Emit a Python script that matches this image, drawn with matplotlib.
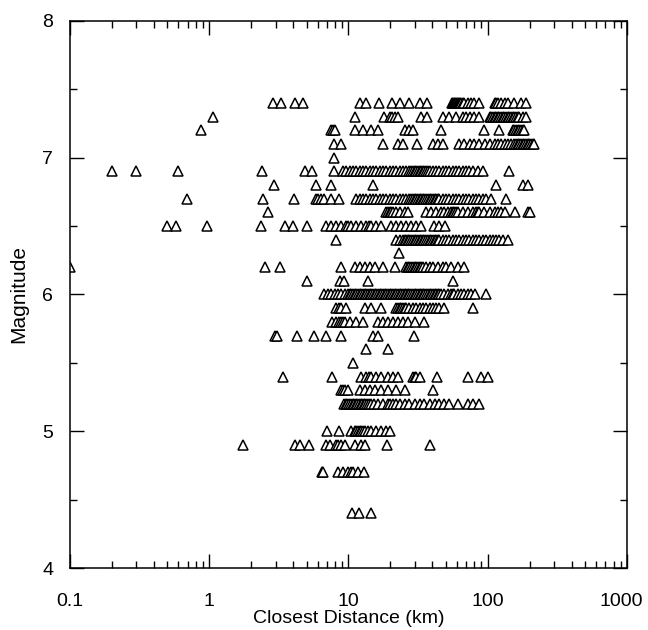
import numpy as np
import matplotlib.pyplot as plt
import matplotlib.transforms as mtransforms
from matplotlib.ticker import FixedLocator, NullFormatter, FixedFormatter

plt.rcParams['font.family'] = ['Liberation Sans', 'DejaVu Sans']

# distancias (km) lidas por linha de magnitude
d74 = [2.85, 3.25, 4.15, 4.75, 12.0, 13.4, 16.5, 20.6, 23.6, 27.1, 32.4, 36.5,
       55, 56, 57, 58, 59, 60, 61, 62, 63, 64.5, 66, 68, 72, 76, 80, 87,
       112, 115, 118, 125, 132, 140, 155, 172, 188]
d73 = [1.06, 11.1, 18.0, 19.7, 20.6, 21.4, 22.8, 33.3, 36.7, 47.6, 53, 59, 66, 70, 74,
       80, 86, 103, 106, 109, 112, 115, 118, 121, 125, 128, 131, 135, 139, 143, 147,
       151, 155, 160, 164, 168, 178, 188]
d72 = [0.87, 7.5, 7.7, 8.0, 11.2, 12.7, 14.6, 16.3, 25.3, 27.0, 29.0, 46.3, 94.7, 121,
       151, 155, 160, 164, 168, 173, 178, 183]
d71 = [7.9, 8.8, 17.7, 22.6, 24.6, 31, 40.3, 43.8, 47.6, 62.6, 67, 74, 80, 87, 95,
       103, 112, 118, 125, 132, 139, 147, 155, 160, 164, 168, 173, 178, 183, 188,
       193, 198, 204, 210, 216]
d70 = [7.9]
d69 = [0.2, 0.3, 0.6, 2.38, 4.9, 5.5, 7.9, 9.1, 9.6, 10.2, 10.8, 11.4, 12.0, 12.7,
       13.4, 14.2, 15.0, 15.8, 16.7, 17.7, 18.7, 19.7, 20.8, 22.0, 23.3, 24.6, 26.0,
       27.4, 28.2, 29.0, 29.8, 30.6, 31.5, 32.4, 33.3, 34.2, 35.1, 36.1, 37.1, 38.2,
       40.3, 42.6, 45.0, 47.6, 50.3, 53.1, 56.1, 59.3, 62.6, 66.2, 69.9, 73.9, 78.1,
       84.8, 92.1, 143]
d68 = [2.9, 5.8, 7.5, 15.0, 115, 178, 193]
d67 = [0.69, 2.45, 4.05, 5.8, 6.0, 6.3, 6.7, 7.5, 8.6, 11.4, 12.0, 12.7, 13.4, 14.2,
       15.0, 15.8, 16.7, 17.7, 18.7, 19.7, 20.8, 22.0, 23.3, 24.6, 26.0, 27.4, 28.2,
       29.0, 29.8, 30.6, 31.5, 32.4, 33.3, 34.2, 35.1, 36.1, 37.1, 38.2, 39.2, 40.3,
       41.5, 42.6, 43.8, 45.0, 47.6, 50.3, 53.1, 56.1, 59.3, 62.6, 66.2, 69.9, 73.9,
       78.1, 82.5, 87.2, 92.1, 97.3, 106, 135]
d66 = [2.65, 18.7, 19.2, 19.7, 20.3, 20.8, 22.0, 23.3, 25.3, 26.7, 36.1, 39.2, 42.6,
       46.3, 48.9, 51.7, 54.6, 56.1, 57.7, 59.3, 60.9, 66.2, 71.9, 78.1, 82.5, 85,
       87.2, 94.7, 103, 112, 118, 125, 132, 157, 193, 202]
d65 = [0.5, 0.58, 0.97, 2.37, 3.5, 4.0, 5.05, 6.9, 7.5, 8.2, 8.9, 9.6, 10.0, 10.5,
       11.4, 12.35, 13.4, 14.0, 14.6, 15.8, 17.2, 20.3, 22.0, 23.9, 26.0, 28.2, 30.6,
       33.3, 41, 45, 49.5]
d64 = [8.2, 22.0, 23.3, 24.6, 25.3, 26.0, 26.7, 27.4, 28.2, 29.0, 29.8, 30.6, 31.5,
       32.4, 33.3, 34.2, 35.1, 36.1, 37.1, 38.2, 39.2, 40.3, 41.5, 42.6, 43.8, 45.0,
       47.6, 50.3, 53.1, 56.1, 59.3, 62.6, 66.2, 69.9, 73.9, 78.1, 82.5, 87.2, 92.1,
       97.3, 103, 109, 115, 121, 128, 139]
d63 = [23.0]
d62 = [0.1, 2.5, 3.2, 8.8, 11.1, 12.0, 13.05, 14.2, 15.4, 17.7, 21.4, 26.0, 26.7,
       27.4, 28.2, 29.0, 29.8, 30.6, 31.5, 32.4, 33.3, 34.2, 36.1, 38.2, 40.3, 43.8,
       47.6, 50.3, 54.6, 60.9, 67]
d61 = [5.05, 8.7, 9.3, 13.9, 56]
d60 = [6.7, 7.1, 7.5, 7.95, 8.4, 8.9, 9.4, 9.9, 10.2, 10.5, 10.8, 11.1, 11.4, 11.7,
       12.0, 12.35, 12.7, 13.05, 13.4, 13.8, 14.2, 14.6, 15.0, 15.4, 15.8, 16.3, 16.7,
       17.2, 17.7, 18.2, 18.7, 19.2, 19.7, 20.3, 20.8, 21.4, 22.0, 22.6, 23.3, 23.9,
       24.6, 25.3, 26.0, 26.7, 27.4, 28.2, 29.0, 29.8, 30.6, 31.5, 32.4, 33.3, 34.2,
       35.1, 36.1, 37.1, 38.2, 39.2, 40.3, 41.5, 42.6, 43.8, 45.0, 46.3, 48.9, 51.7,
       54.6, 56.1, 57.7, 60.9, 64.4, 68.0, 71.9, 76.0, 81, 97]
d59 = [8.2, 8.5, 8.8, 9.6, 13.05, 14.6, 17.2, 22.0, 22.6, 23.3, 23.9, 24.6, 25.3, 26.0,
       27.4, 29.0, 30.6, 32.4, 34.2, 36.1, 38.2, 40.3, 42.6, 45.0, 48.3, 78]
d58 = [7.6, 8.2, 8.5, 8.8, 9.1, 9.4, 10.2, 11.4, 12.7, 16.3, 17.7, 19.2, 20.8, 22.6,
       24.6, 26.7, 29.8, 35.1]
d57 = [2.95, 3.05, 4.3, 5.7, 6.9, 8.8, 15.0, 16.4, 29.5]
d56 = [13.4, 19.2]
d55 = [10.8]
d54 = [3.4, 7.6, 12.35, 13.4, 14.0, 14.6, 15.8, 17.2, 19.2, 20.8, 22.6, 29.0, 30.0,
       30.6, 32.4, 43.3, 71.9, 89, 101]
d53 = [8.9, 9.2, 9.4, 10.0, 12.0, 13.05, 14.2, 15.4, 17.2, 19.2, 22.0, 25.3, 40.3]
d52 = [9.3, 9.6, 9.8, 10.1, 10.4, 10.7, 11.0, 11.3, 11.6, 11.9, 12.2, 12.5, 12.9,
       13.2, 13.6, 14.0, 14.4, 15.2, 16.3, 17.7, 19.2, 20.0, 20.8, 22.0, 23.3, 25.3,
       27.4, 29.8, 32.4, 35.1, 38.2, 41.5, 45.0, 48.9, 53.1, 61, 72, 78, 87]
d50 = [7.0, 8.6, 10.5, 11.1, 11.4, 11.7, 12.0, 12.35, 12.7, 13.05, 13.8, 14.6, 15.8,
       17.2, 18.7, 20.0]
d49 = [1.75, 4.1, 4.5, 5.2, 6.9, 7.4, 8.1, 8.4, 8.8, 9.5, 11.2, 12.2, 13.2, 18.9, 38.8]
d47 = [6.4, 6.6, 8.4, 9.1, 9.9, 10.4, 10.8, 11.7, 12.9]
d44 = [10.6, 11.8, 14.5]

magnitudes = [7.4, 7.3, 7.2, 7.1, 7.0, 6.9, 6.8, 6.7, 6.6, 6.5, 6.4, 6.3, 6.2, 6.1,
              6.0, 5.9, 5.8, 5.7, 5.6, 5.5, 5.4, 5.3, 5.2, 5.0, 4.9, 4.7, 4.4]
linhas = [d74, d73, d72, d71, d70, d69, d68, d67, d66, d65, d64, d63, d62, d61,
          d60, d59, d58, d57, d56, d55, d54, d53, d52, d50, d49, d47, d44]

x = np.concatenate([np.array(d, dtype=float) for d in linhas])
y = np.concatenate([np.full(len(d), m) for m, d in zip(magnitudes, linhas)])

fig = plt.figure(figsize=(6.48, 6.3), dpi=100)
ax = fig.add_axes([0.108, 0.0984, 0.8596, 0.8683])

ax.plot(x, y, linestyle='none', marker='^', markersize=7.5,
        markerfacecolor='white', markeredgecolor='black', markeredgewidth=1.1)

ax.set_xscale('log')
ax.set_xlim(0.1, 1000)
ax.set_ylim(4, 8)

ax.xaxis.set_major_locator(FixedLocator([0.1, 1, 10, 100, 1000]))
ax.xaxis.set_major_formatter(FixedFormatter(['0.1', '1', '10', '100', '1000']))
minx = [k * 10.0 ** e for e in range(-1, 3) for k in range(2, 10)]
ax.xaxis.set_minor_locator(FixedLocator(minx))
ax.xaxis.set_minor_formatter(NullFormatter())
ax.set_yticks([4, 5, 6, 7, 8])
ax.set_yticks([4.5, 5.5, 6.5, 7.5], minor=True)

ax.tick_params(which='both', direction='in', top=True, right=True,
               labelsize=14, width=1, color='black')
ax.tick_params(which='major', length=10)
ax.tick_params(axis='x', which='major', pad=18)
ax.tick_params(axis='y', which='major', pad=12)
ax.tick_params(which='minor', length=5)
for s in ax.spines.values():
    s.set_linewidth(1.1)

# empurra o rótulo "1000" um pouco para dentro da figura
ultimo = ax.get_xticklabels()[-1]
ultimo.set_transform(ultimo.get_transform() +
                     mtransforms.ScaledTranslation(-4 / 72, 0, fig.dpi_scale_trans))

ax.set_xlabel('Closest Distance (km)', fontsize=14, labelpad=0)
ax.set_ylabel('Magnitude', fontsize=15, labelpad=10)

fig.savefig('out.png', dpi=100)
